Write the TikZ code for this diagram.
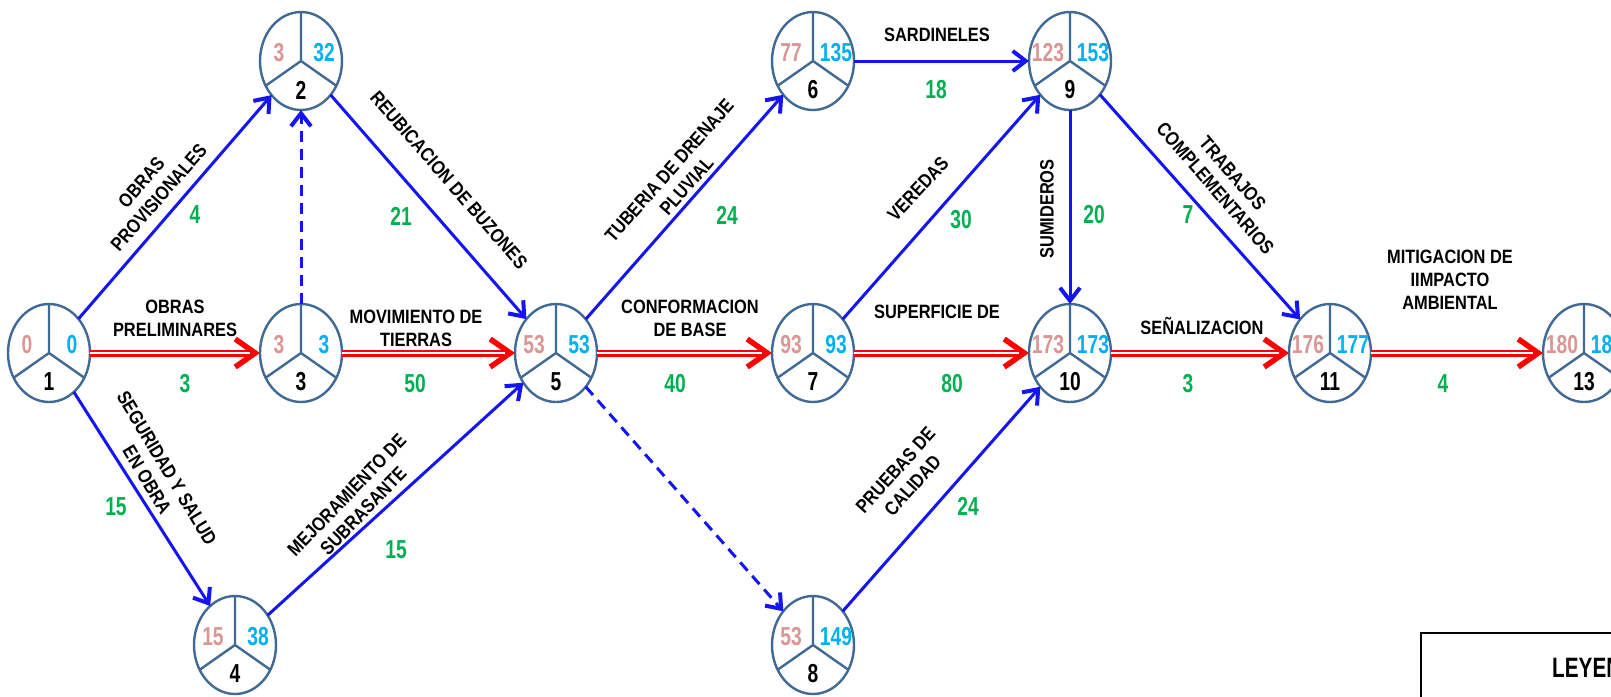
\documentclass[tikz,border=0pt]{standalone}
\usepackage{fontspec}
\setmainfont{Liberation Sans}
\newfontfamily\labelfont[FakeStretch=0.85]{Liberation Sans Bold}
\newfontfamily\numfont[FakeStretch=0.74]{Liberation Sans Bold}
\usetikzlibrary{shapes.geometric,arrows.meta}

\definecolor{ringblue}{RGB}{65,105,150}
\definecolor{arcblue}{RGB}{20,20,245}
\definecolor{earlypink}{RGB}{218,150,148}
\definecolor{latecyan}{RGB}{0,176,240}
\definecolor{durgreen}{RGB}{0,176,80}
\definecolor{critred}{RGB}{255,0,0}

\tikzset{
  event/.style={ellipse, draw=ringblue, line width=2.4pt, fill=white,
    minimum width=82pt, minimum height=98pt, inner sep=0pt, outer sep=0pt},
  divider/.style={draw=ringblue, line width=2.4pt},
  numtext/.style={font=\numfont\fontsize{26}{26}\selectfont, inner sep=0pt},
  earlynum/.style={numtext, text=earlypink},
  latenum/.style={numtext, text=latecyan},
  idnum/.style={numtext, text=black},
  dur/.style={numtext, text=durgreen},
  lab/.style={font=\labelfont\fontsize{19.3}{23}\selectfont, align=center,
    inner sep=0pt, text=black},
  act/.style={draw=arcblue, line width=3pt,
    -{Straight Barb[length=13pt,width=20pt,line width=4pt]}},
  dummy/.style={act, dash pattern=on 11pt off 7pt},
  crit/.style={draw=critred, line width=7pt,
    -{Straight Barb[length=20pt,width=28pt,line width=5.5pt]},
    postaction={draw=white, line width=2pt, -, shorten >=10pt}},
  legendbox/.style={draw=black, line width=2pt},
  legendtext/.style={font=\numfont\fontsize{28}{28}\selectfont, inner sep=0pt}
}

% event circle: name, x, y, earliest time, latest time, event number
\newcommand\eventnode[6]{%
  \node[event] (#1) at (#2,#3) {};
  \draw[divider] (#1.north) -- (#1.center) -- (#1.215)
                 (#1.center) -- (#1.325);
  \node[earlynum] (#1e) at ([xshift=-22pt,yshift=8pt]#1.center) {#4};
  \node[latenum]  (#1l) at ([xshift=23pt,yshift=8pt]#1.center) {#5};
  \node[idnum]    (#1i) at ([yshift=-29pt]#1.center) {#6};
}

\begin{document}
\begin{tikzpicture}[x=1pt,y=-1pt]
\path[use as bounding box, fill=white] (0,0) rectangle (1611,696);

% events
\eventnode{n1}{49}{353}{0}{0}{1}
\eventnode{n2}{301}{61}{3}{32}{2}
\eventnode{n3}{301}{353}{3}{3}{3}
\eventnode{n4}{235}{645}{15}{38}{4}
\eventnode{n5}{556}{353}{53}{53}{5}
\eventnode{n6}{813}{61}{77}{135}{6}
\eventnode{n7}{813}{353}{93}{93}{7}
\eventnode{n8}{813}{645}{53}{149}{8}
\eventnode{n9}{1070}{61}{123}{153}{9}
\eventnode{n10}{1070}{353}{173}{173}{10}
\eventnode{n11}{1330}{353}{176}{177}{11}
\eventnode{n13}{1584}{353}{180}{180}{13}

% activities
\draw[act]   (n1) -- (n2);
\draw[crit]  (n1) -- (n3);
\draw[act]   (n1) -- (n4);
\draw[dummy] (n3) -- (n2);
\draw[act]   (n2) -- (n5);
\draw[crit]  (n3) -- (n5);
\draw[act]   (n4) -- (n5);
\draw[act]   (n5) -- (n6);
\draw[crit]  (n5) -- (n7);
\draw[dummy] (n5) -- (n8);
\draw[act]   (n6) -- (n9);
\draw[act]   (n7) -- (n9);
\draw[crit]  (n7) -- (n10);
\draw[act]   (n8) -- (n10);
\draw[act]   (n9) -- (n10);
\draw[act]   (n9) -- (n11);
\draw[crit]  (n10) -- (n11);
\draw[crit]  (n11) -- (n13);

% activity names
\node[lab, rotate=49] (l12) at (150,190) {OBRAS\\PROVISIONALES};
\node[lab] (l13) at (175,318) {OBRAS\\PRELIMINARES};
\node[lab, rotate=-59] (l14) at (157,474) {SEGURIDAD Y SALUD\\EN OBRA};
\node[lab, rotate=46] (l45) at (355,503) {MEJORAMIENTO DE\\SUBRASANTE};
\node[lab, rotate=-49] (l25) at (449,180) {REUBICACION DE BUZONES};
\node[lab] (l35) at (416,328) {MOVIMIENTO DE\\TIERRAS};
\node[lab, rotate=48.5] (l56) at (678,178) {TUBERIA DE DRENAJE\\PLUVIAL};
\node[lab] (l57) at (690,318) {CONFORMACION\\DE BASE};
\node[lab] (l69) at (937,35) {SARDINELES};
\node[lab, rotate=47] (l79) at (918,189) {VEREDAS};
\node[lab] (l710) at (937,312) {SUPERFICIE DE};
\node[lab, rotate=48] (l810) at (904,478) {PRUEBAS DE\\CALIDAD};
\node[lab, rotate=90] (l910) at (1047,209) {SUMIDEROS};
\node[lab, rotate=-49] (l911) at (1224,181) {TRABAJOS\\COMPLEMENTARIOS};
\node[lab] (l1011) at (1202,326) {SEÑALIZACION};
\node[lab] (l1113) at (1450,280) {MITIGACION DE\\IIMPACTO\\AMBIENTAL};

% durations
\node[dur] (d12) at (195,215) {4};
\node[dur] (d13) at (185,384) {3};
\node[dur] (d14) at (116,507) {15};
\node[dur] (d45) at (396,550) {15};
\node[dur] (d25) at (401,216) {21};
\node[dur] (d35) at (415,384) {50};
\node[dur] (d56) at (727,215) {24};
\node[dur] (d57) at (675,384) {40};
\node[dur] (d69) at (936,90) {18};
\node[dur] (d79) at (961,220) {30};
\node[dur] (d710) at (952,384) {80};
\node[dur] (d810) at (968,506) {24};
\node[dur] (d910) at (1094,215) {20};
\node[dur] (d911) at (1188,215) {7};
\node[dur] (d1011) at (1188,384) {3};
\node[dur] (d1113) at (1443,384) {4};

% legend
\draw[legendbox] (1421,633) rectangle (1800,800);
\node[legendtext, anchor=west] (legend) at (1552,668) {LEYENDA};
\end{tikzpicture}
\end{document}
